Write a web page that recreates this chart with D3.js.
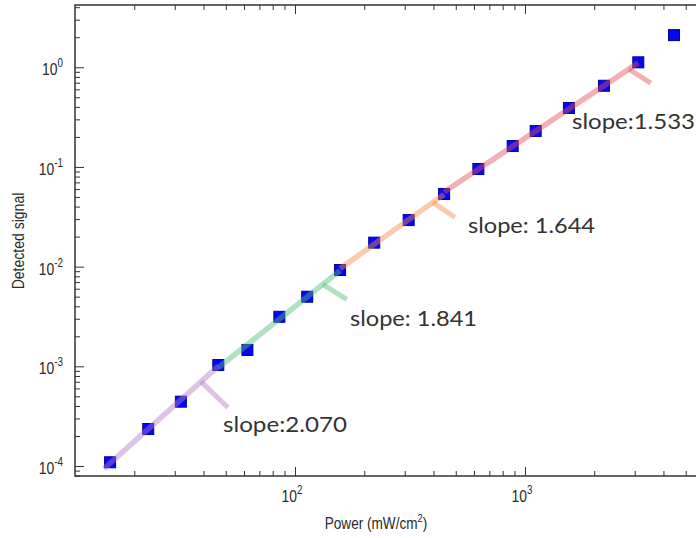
<!DOCTYPE html>
<html><head><meta charset="utf-8">
<script src="https://cdn.jsdelivr.net/npm/d3@7"></script>
<style>
html,body{margin:0;padding:0;background:#fff;}
svg{display:block;}
</style></head>
<body>
<svg id="chart" width="696" height="538"></svg>
<script>
// ---- data ----
const power = [15.7, 23.0, 31.9, 46.4, 62.1, 85.5, 113, 157, 221, 312, 445, 627, 884, 1113, 1553, 2205, 3110, 4446];
const signal = [1.09e-4, 2.35e-4, 4.42e-4, 1.03e-3, 1.46e-3, 3.14e-3, 4.99e-3, 9.25e-3, 0.0174, 0.0293, 0.0535, 0.0953, 0.162, 0.229, 0.390, 0.652, 1.12, 2.10];
const fitSlopes = [2.070, 1.841, 1.644, 1.533];
const fitStart = [0, 3, 7, 10];   // index of first point in each fit
const fitEnd = [3, 7, 10, 16];    // index of last point in each fit
const fitLabels = ["slope:2.070", "slope: 1.841", "slope: 1.644", "slope:1.533"];
const fitMarkX = [39, 132, 398, 2830];
const xMajor = [100, 1000];
const xMajorExp = ["2", "3"];
const yMajor = [1e-4, 1e-3, 1e-2, 1e-1, 1];
const yMajorExp = ["-4", "-3", "-2", "-1", "0"];

// ---- styles / layout ----
const fitColors = ["rgb(180,125,200)", "rgb(80,190,120)", "rgb(245,140,70)", "rgb(228,80,90)"];
const markOffsets = [[27, 26], [24, 15], [22, 15], [22, 14]];
const labelPos = [[223, 432], [350, 326], [468, 233], [572, 129]];
const labelWidth = [124, 127, 127, 123];

const svg = d3.select("#chart");
const L = 75, R = 700, T = 5, B = 476;
const x = d3.scaleLog().domain([11.05, 5768]).range([L, R]);
const y = d3.scaleLog().domain([7.94e-5, 4.21]).range([B, T]);

const axisColor = "#333";
const textColor = "#2a2a2a";

function minorTicks(scale) {
  const [a, b] = scale.domain();
  const out = [];
  for (let e = Math.floor(Math.log10(a)); e <= Math.ceil(Math.log10(b)); e++) {
    for (let m = 2; m <= 9; m++) {
      const v = m * Math.pow(10, e);
      if (v > a && v < b) out.push(v);
    }
  }
  return out;
}
const xMinor = minorTicks(x);
const yMinor = minorTicks(y);

function styleAxis(g) {
  g.select(".domain").remove();
  g.selectAll(".tick line").attr("stroke", axisColor).attr("stroke-width", 1);
}

svg.append("g").attr("transform", `translate(0,${B})`)
  .call(d3.axisBottom(x).tickValues(xMinor).tickSize(-5).tickFormat("")).call(styleAxis);
svg.append("g").attr("transform", `translate(0,${B})`)
  .call(d3.axisBottom(x).tickValues(xMajor).tickSize(-9).tickFormat("")).call(styleAxis);
svg.append("g").attr("transform", `translate(0,${T})`)
  .call(d3.axisTop(x).tickValues(xMinor).tickSize(-5).tickFormat("")).call(styleAxis);
svg.append("g").attr("transform", `translate(0,${T})`)
  .call(d3.axisTop(x).tickValues(xMajor).tickSize(-9).tickFormat("")).call(styleAxis);
svg.append("g").attr("transform", `translate(${L},0)`)
  .call(d3.axisLeft(y).tickValues(yMinor).tickSize(-5).tickFormat("")).call(styleAxis);
svg.append("g").attr("transform", `translate(${L},0)`)
  .call(d3.axisLeft(y).tickValues(yMajor).tickSize(-9).tickFormat("")).call(styleAxis);

svg.append("path")
  .attr("d", `M${R},${T}H${L}V${B}H${R}`)
  .attr("fill", "none").attr("stroke", axisColor).attr("stroke-width", 1.5);

// tick labels (condensed look)
const tickFont = "'Liberation Sans', Arial, sans-serif";
const sx = 0.82;
xMajor.forEach((v, i) => {
  const t = svg.append("text").attr("transform", `translate(${x(v) - 3},${B + 26}) scale(${sx},1)`)
    .attr("font-family", tickFont).attr("fill", textColor).attr("font-size", 17).attr("text-anchor", "middle");
  t.append("tspan").text("10");
  t.append("tspan").attr("font-size", 12).attr("dy", -8).text(xMajorExp[i]);
});
yMajor.forEach((v, i) => {
  const t = svg.append("text").attr("transform", `translate(63,${y(v) + 8}) scale(${sx},1)`)
    .attr("font-family", tickFont).attr("fill", textColor).attr("font-size", 17).attr("text-anchor", "end");
  t.append("tspan").text("10");
  t.append("tspan").attr("font-size", 12).attr("dy", -8).text(yMajorExp[i]);
});

// axis titles
const xt = svg.append("text").attr("transform", `translate(376,529) scale(0.85,1)`).attr("text-anchor", "middle")
  .attr("font-family", tickFont).attr("font-size", 16).attr("fill", textColor);
xt.append("tspan").text("Power (mW/cm");
xt.append("tspan").attr("font-size", 11).attr("dy", -7).text("2");
xt.append("tspan").attr("dy", 7).text(")");

svg.append("text").attr("transform", `translate(24,241) rotate(-90) scale(0.85,1)`).attr("text-anchor", "middle")
  .attr("font-family", tickFont).attr("font-size", 16.5).attr("fill", textColor).text("Detected signal");

// markers
svg.append("g").selectAll("rect").data(power.map((p, i) => [p, signal[i]])).join("rect")
  .attr("x", d => x(d[0]) - 5.5).attr("y", d => y(d[1]) - 5.5)
  .attr("width", 11).attr("height", 11)
  .attr("fill", "#0808f0").attr("stroke", "#0000a0").attr("stroke-width", 1);

// fit lines (drawn on top, translucent)
const fits = svg.append("g").attr("stroke-linecap", "butt");
fitSlopes.forEach((s, k) => {
  const idx = d3.range(fitStart[k], fitEnd[k] + 1);
  const b = d3.mean(idx, i => Math.log10(signal[i]) - s * Math.log10(power[i]));
  const f = v => Math.pow(10, s * Math.log10(v) + b);
  const x0 = power[fitStart[k]] * (k === 0 ? 0.94 : 1.0);
  const x1 = power[fitEnd[k]];
  fits.append("line")
    .attr("x1", x(x0)).attr("y1", y(f(x0)))
    .attr("x2", x(x1)).attr("y2", y(f(x1)))
    .attr("stroke", fitColors[k]).attr("stroke-opacity", 0.45).attr("stroke-width", 5.5);
  const mx = fitMarkX[k];
  const px = x(mx), py = y(f(mx));
  fits.append("line")
    .attr("x1", px).attr("y1", py)
    .attr("x2", px + markOffsets[k][0]).attr("y2", py + markOffsets[k][1])
    .attr("stroke", fitColors[k]).attr("stroke-opacity", 0.45).attr("stroke-width", 5);
});

// slope labels
fitLabels.forEach((t, k) => {
  svg.append("text").attr("x", labelPos[k][0]).attr("y", labelPos[k][1])
    .attr("font-family", "Lato, 'Open Sans', sans-serif").attr("font-size", 21)
    .attr("fill", "#333").attr("textLength", labelWidth[k]).attr("lengthAdjust", "spacingAndGlyphs")
    .text(t);
});
</script>
</body></html>
